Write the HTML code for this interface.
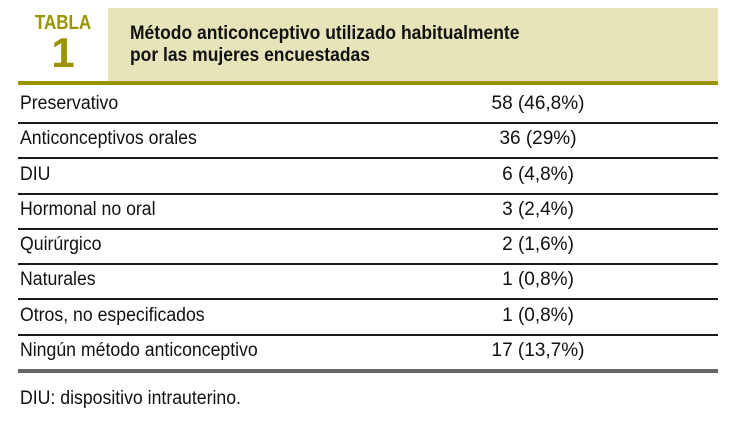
<!DOCTYPE html>
<html><head><meta charset="utf-8"><style>
body{margin:0;width:730px;height:422px;background:#fff;position:relative;overflow:hidden;font-family:"Liberation Sans Narrow","Liberation Sans",sans-serif;color:#111}
.abs{position:absolute}
.tabla{left:18px;top:13px;width:90px;text-align:center;color:#9a9400;font-weight:bold;line-height:1}
.hdr{left:108px;top:8px;width:610px;height:75px;background:#e6e4b8}
.title{left:130px;top:23px;font-weight:bold;font-size:19px;line-height:22px;color:#111;transform:scaleX(0.92);transform-origin:left top;white-space:nowrap}
.rule{left:18px;top:81px;width:700px;height:4px;background:#9a9400}
.row{left:18px;width:700px;height:35px;font-size:19px}
.row .l{position:absolute;left:2px;top:5px;white-space:nowrap;transform:scaleX(0.93);transform-origin:left top}
.row .v{position:absolute;left:412px;width:216px;text-align:center;top:5px}
.sep{position:absolute;left:18px;width:700px;height:2px;background:#1a1a1a}
.bot{left:18px;top:369px;width:700px;height:4px;background:#666}
.foot{left:20px;top:388px;font-size:19px;transform:scaleX(0.93);transform-origin:left top;white-space:nowrap}
</style></head><body>
<div class="abs hdr"></div>
<div class="abs tabla"><div style="font-size:20px;transform:scaleX(0.85)">TABLA</div><div style="font-size:42px;margin-top:-1px">1</div></div>
<div class="abs title">Método anticonceptivo utilizado habitualmente<br>por las mujeres encuestadas</div>
<div class="abs rule"></div>
<div id="rows"></div>
<div class="abs bot"></div>
<div class="abs foot">DIU: dispositivo intrauterino.</div>
<script>
const methods=["Preservativo","Anticonceptivos orales","DIU","Hormonal no oral","Quirúrgico","Naturales","Otros, no especificados","Ningún método anticonceptivo"];
const counts=[58,36,6,3,2,1,1,17];
const percents=["46,8%","29%","4,8%","2,4%","1,6%","0,8%","0,8%","13,7%"];
const c=document.getElementById('rows');
const top0=88,h=35.25;
methods.forEach((m,i)=>{
  const r=document.createElement('div');r.className='abs row';r.style.top=(top0+i*h)+'px';
  
  
  const l=document.createElement('div');l.className='l';l.textContent=m;
  
  
  const v=document.createElement('div');v.className='v';v.textContent=counts[i]+' ('+percents[i]+')';
  
  
  r.appendChild(l);r.appendChild(v);c.appendChild(r);
  if(i<methods.length-1){const s=document.createElement('div');s.className='sep';s.style.top=(122+i*h)+'px';
  
  
  c.appendChild(s);}
});
</script>
</body></html>
